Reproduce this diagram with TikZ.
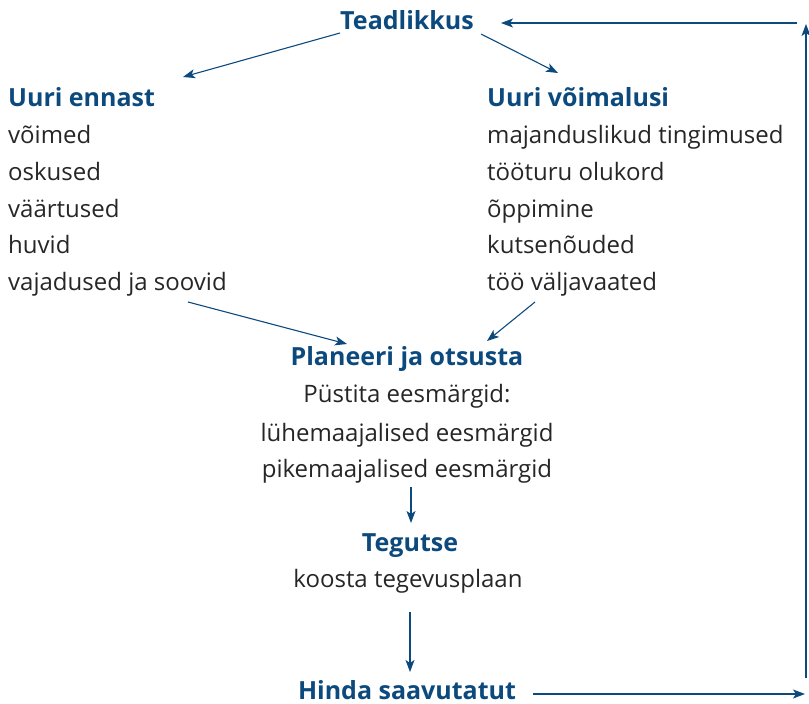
\documentclass[tikz,border=0pt]{standalone}
\usepackage{fontspec}
\setmainfont{Open Sans}
\usetikzlibrary{arrows.meta}
\definecolor{hblue}{HTML}{0C4A7E}
\definecolor{tgray}{HTML}{262626}
\begin{document}
\begin{tikzpicture}[x=1pt,y=-1pt,
  body/.style={inner sep=0pt,text=tgray,font=\fontsize{24}{28}\selectfont},
  head/.style={inner sep=0pt,text=hblue,font=\fontsize{25}{29}\selectfont\bfseries},
  arr/.style={draw=hblue,line width=1.1pt,-{Stealth[length=12pt,width=9pt,inset=3pt]}}]
\useasboundingbox (0,0) rectangle (809,704);
% top
\node[head,anchor=base] (teadl) at (407,29.5) {Teadlikkus};
% left column
\node[head,anchor=base west] (ue) at (8,106) {Uuri ennast};
\node[body,anchor=base west] (l1) at (8,143) {võimed};
\node[body,anchor=base west] (l2) at (8,180) {oskused};
\node[body,anchor=base west] (l3) at (8,217) {väärtused};
\node[body,anchor=base west] (l4) at (8,253) {huvid};
\node[body,anchor=base west] (l5) at (8,290) {vajadused ja soovid};
% right column
\node[head,anchor=base west] (uv) at (487,106) {Uuri võimalusi};
\node[body,anchor=base west] (r1) at (487,143) {majanduslikud tingimused};
\node[body,anchor=base west] (r2) at (487,180) {tööturu olukord};
\node[body,anchor=base west] (r3) at (487,217) {õppimine};
\node[body,anchor=base west] (r4) at (487,253) {kutsenõuded};
\node[body,anchor=base west] (r5) at (487,290) {töö väljavaated};
% center
\node[head,anchor=base] (plan) at (407,365) {Planeeri ja otsusta};
\node[body,anchor=base] (c1) at (407,402) {Püstita eesmärgid:};
\node[body,anchor=base] (c2) at (407,441) {lühemaajalised eesmärgid};
\node[body,anchor=base] (c3) at (407,477) {pikemaajalised eesmärgid};
\node[head,anchor=base] (teg) at (410,551) {Tegutse};
\node[body,anchor=base] (t1) at (408,587) {koosta tegevusplaan};
\node[head,anchor=base] (hinda) at (407,699.5) {Hinda saavutatut};
% connector ends
\coordinate (a1s) at (340,33);  \coordinate (a1e) at (183,77);
\coordinate (a2s) at (481,34);  \coordinate (a2e) at (558,73);
\coordinate (a3s) at (797,23);  \coordinate (a3e) at (501,23);
\coordinate (a4s) at (806,678); \coordinate (a4e) at (806,24);
\coordinate (a5s) at (533,694); \coordinate (a5e) at (805,694);
\coordinate (a6s) at (188,302); \coordinate (a6e) at (347,344);
\coordinate (a7s) at (535,302); \coordinate (a7e) at (487,341);
\coordinate (a8s) at (411,487); \coordinate (a8e) at (411,523);
\coordinate (a9s) at (410,612); \coordinate (a9e) at (410,672);
\draw[arr] (a1s) -- (a1e);
\draw[arr] (a2s) -- (a2e);
\draw[arr] (a3s) -- (a3e);
\draw[arr] (a4s) -- (a4e);
\draw[arr] (a5s) -- (a5e);
\draw[arr] (a6s) -- (a6e);
\draw[arr] (a7s) -- (a7e);
\draw[arr] (a8s) -- (a8e);
\draw[arr] (a9s) -- (a9e);
\end{tikzpicture}
\end{document}
